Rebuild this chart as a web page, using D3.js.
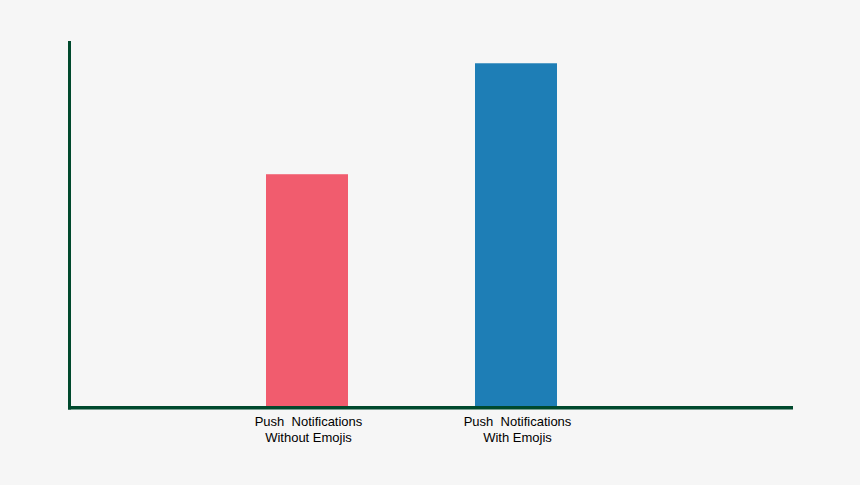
<!DOCTYPE html>
<html>
<head>
<meta charset="utf-8">
<script src="https://cdn.jsdelivr.net/npm/d3@7"></script>
<style>
  html, body { margin: 0; padding: 0; background: #f6f6f6; }
  svg { display: block; }
  text { font-family: "Liberation Sans", Arial, sans-serif; }
</style>
</head>
<body>
<svg id="chart" width="860" height="485"></svg>
<script>
const categories = ["Push  Notifications\nWithout Emojis", "Push  Notifications\nWith Emojis"];
const values = [63.5, 93.9];
const colors = ["#f15c6e", "#1e7eb6"];

const W = 860, H = 485;
const svg = d3.select("#chart");
svg.append("rect").attr("width", W).attr("height", H).attr("fill", "#f6f6f6");

const axisLeft = 69.5, axisRight = 793, axisBottom = 406, axisTop = 41;

const x = d3.scaleBand()
  .domain(categories)
  .range([119.7, 703.3])
  .paddingInner(0.6077)
  .paddingOuter(0.7);

const y = d3.scaleLinear().domain([0, 100]).range([axisBottom, axisTop]);

svg.selectAll("rect.bar")
  .data(categories)
  .join("rect")
  .attr("class", "bar")
  .attr("x", d => x(d))
  .attr("width", x.bandwidth())
  .attr("y", (d, i) => y(values[i]))
  .attr("height", (d, i) => y(0) - y(values[i]))
  .attr("fill", (d, i) => colors[i]);

const axisColor = "#00492d";
// y axis line
svg.append("line")
  .attr("x1", axisLeft).attr("x2", axisLeft)
  .attr("y1", axisTop).attr("y2", axisBottom + 3.5)
  .attr("stroke", axisColor).attr("stroke-width", 3);
// x axis line
svg.append("line")
  .attr("x1", axisLeft - 1.5).attr("x2", axisRight)
  .attr("y1", axisBottom + 1.75).attr("y2", axisBottom + 1.75)
  .attr("stroke", axisColor).attr("stroke-width", 3.5);

// labels
const lab = svg.selectAll("text.lab")
  .data(categories)
  .join("text")
  .attr("class", "lab")
  .attr("text-anchor", "middle")
  .attr("font-size", 13)
  .attr("fill", "#000")
  .style("white-space", "pre")
  .attr("transform", d => `translate(${x(d) + x.bandwidth() / 2 + 1.5},0)`);

lab.selectAll("tspan")
  .data(d => d.split("\n"))
  .join("tspan")
  .attr("x", 0)
  .attr("y", (d, i) => 426 + i * 16)
  .text(d => d);
</script>
</body>
</html>
